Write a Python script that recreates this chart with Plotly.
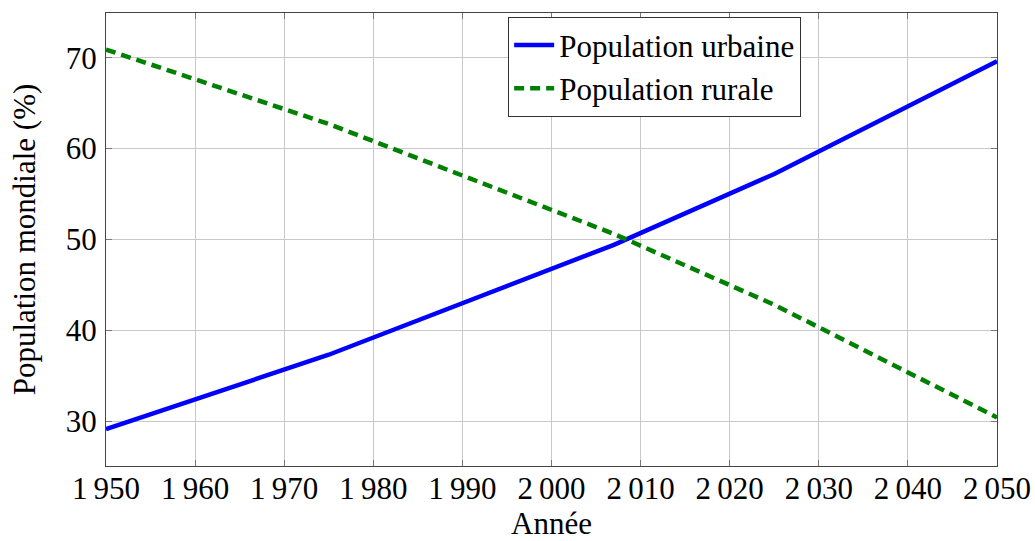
import plotly.graph_objects as go

years = [1950, 1975, 2007, 2025, 2050]
urbaine = [29.1, 37.3, 49.4, 57.2, 69.6]
rurale = [70.9, 62.7, 50.6, 42.8, 30.4]

x_ticks = [1950, 1960, 1970, 1980, 1990, 2000, 2010, 2020, 2030, 2040, 2050]
x_labels = ["1\u2009950", "1\u2009960", "1\u2009970", "1\u2009980", "1\u2009990",
            "2\u2009000", "2\u2009010", "2\u2009020", "2\u2009030", "2\u2009040", "2\u2009050"]
y_ticks = [30, 40, 50, 60, 70]

FONT = "'Liberation Serif', 'DejaVu Serif', 'Times New Roman', serif"
FS = 31

fig = go.Figure()
fig.add_trace(go.Scatter(x=years, y=urbaine, mode="lines", name="Population urbaine",
                         line=dict(color="#0000ff", width=4.5)))
fig.add_trace(go.Scatter(x=years, y=rurale, mode="lines", name="Population rurale",
                         line=dict(color="#008000", width=4.5, dash="10px,6px")))

axis_common = dict(showline=True, linecolor="#444444", linewidth=1.3, mirror="ticks",
                   ticks="inside", ticklen=6, tickcolor="#777777", tickwidth=1,
                   showgrid=True, gridcolor="#c8c8c8", gridwidth=1, zeroline=False,
                   automargin=False,
                   tickfont=dict(family=FONT, size=FS, color="#000000"))

fig.update_layout(
    width=1035, height=541,
    margin=dict(l=106, r=38, t=13, b=75),
    paper_bgcolor="white", plot_bgcolor="white",
    font=dict(family=FONT, size=FS, color="#000000"),
    xaxis=dict(range=[1950, 2050], tickvals=x_ticks, ticktext=x_labels, ticklabelstandoff=-5,
               title=dict(text="Année", font=dict(family=FONT, size=FS), standoff=2),
               **axis_common),
    yaxis=dict(range=[25.05, 74.92], tickvals=y_ticks, ticklabelstandoff=2,
               title=dict(text="Population mondiale (%)", font=dict(family=FONT, size=FS), standoff=20),
               **axis_common),
    legend=dict(x=0.451, y=0.991, xanchor="left", yanchor="top",
                bgcolor="white", bordercolor="#333333", borderwidth=1.3,
                font=dict(family=FONT, size=31), itemwidth=40, tracegroupgap=0,
                entrywidth=290, entrywidthmode="pixels"),
    showlegend=True,
)

fig.write_html("out.html", config={"displayModeBar": False},
               post_script="document.body.style.margin='0';")
